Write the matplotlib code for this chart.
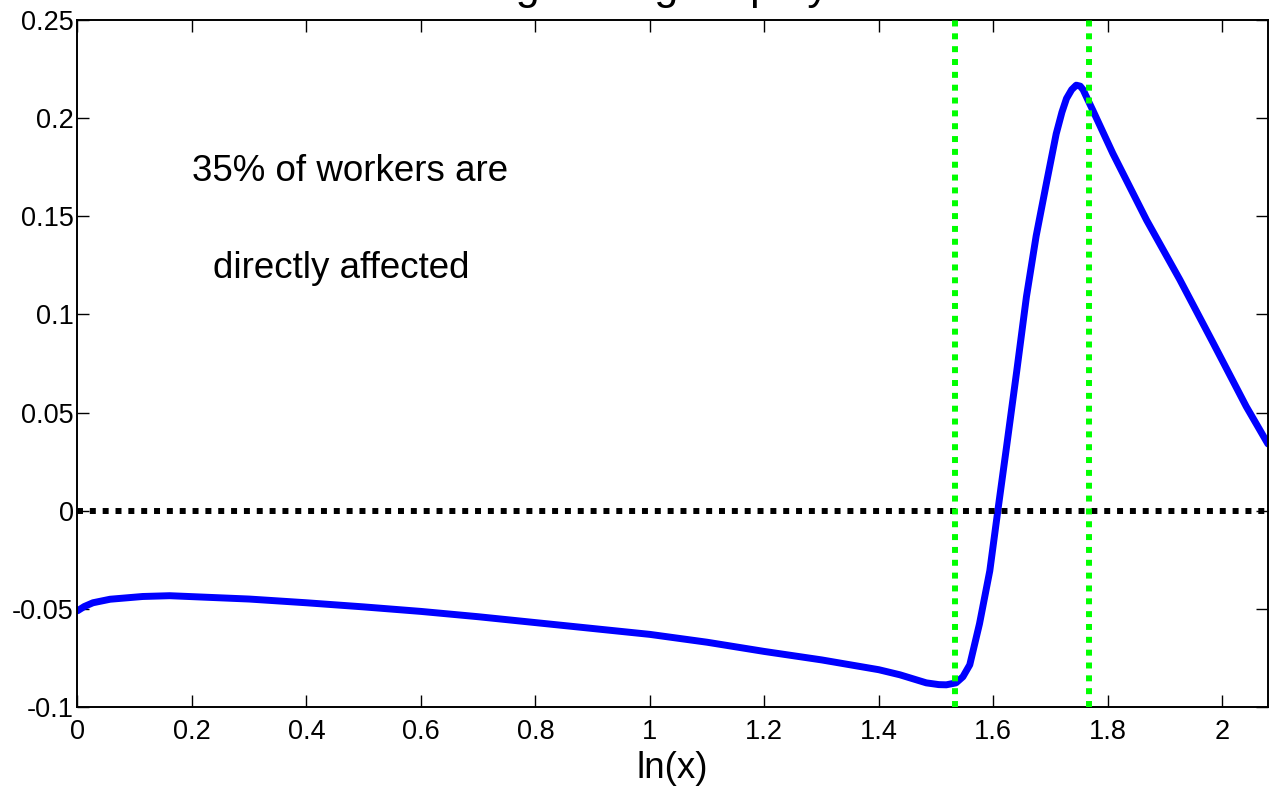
import matplotlib
matplotlib.use('Agg')
import matplotlib.pyplot as plt

plt.rcParams['font.family'] = ['Liberation Sans', 'DejaVu Sans']

# employment response by log wage ratio
ln_x = [0.0, 0.012, 0.027, 0.057, 0.114, 0.161, 0.3, 0.4, 0.5, 0.6, 0.7,
        0.8, 0.9, 1.0, 1.1, 1.2, 1.3, 1.4, 1.437, 1.483, 1.505, 1.518, 1.535,
        1.547, 1.559, 1.576, 1.594, 1.608, 1.623, 1.641, 1.658, 1.675, 1.693,
        1.71, 1.72, 1.728, 1.737, 1.745, 1.752, 1.757, 1.765, 1.774, 1.809,
        1.868, 1.926, 1.984, 2.042, 2.08]
d_log_emp = [-0.051, -0.0488, -0.0469, -0.0451, -0.0437, -0.0433, -0.045,
             -0.0469, -0.049, -0.0513, -0.054, -0.057, -0.060, -0.063,
             -0.067, -0.0717, -0.076, -0.081, -0.0836, -0.0877, -0.0886,
             -0.0887, -0.0877, -0.0846, -0.0785, -0.0576, -0.0306, 0.0, 0.032,
             0.071, 0.109, 0.140, 0.167, 0.192, 0.203, 0.210, 0.2145, 0.2168,
             0.2163, 0.2145, 0.2095, 0.204, 0.182, 0.148, 0.1177, 0.0856,
             0.0531, 0.034]

# old and new minimum wage, in ln(x)
wage_lines = [1.533, 1.767]

x_ticks = [0, 0.2, 0.4, 0.6, 0.8, 1, 1.2, 1.4, 1.6, 1.8, 2]
x_labels = ['0', '0.2', '0.4', '0.6', '0.8', '1', '1.2', '1.4', '1.6', '1.8', '2']
y_ticks = [-0.1, -0.05, 0, 0.05, 0.1, 0.15, 0.2, 0.25]
y_labels = ['-0.1', '-0.05', '0', '0.05', '0.1', '0.15', '0.2', '0.25']

fig = plt.figure(figsize=(12.7, 7.91), dpi=100)
fig.patch.set_facecolor('white')
ax = fig.add_axes([0.061, 0.1062, 0.9374, 0.8685])

ax.plot(ln_x, d_log_emp, color='#0000FF', linewidth=5, solid_capstyle='round',
        solid_joinstyle='round', zorder=2)
ax.axhline(0, color='black', linewidth=4.3, linestyle=(0, (1, 1.15)),
           dash_capstyle='butt', zorder=3)
for xv in wage_lines:
    ax.axvline(xv, color='#00FF00', linewidth=4.3, linestyle=(0, (1, 1.15)),
               dash_capstyle='butt', zorder=4)

ax.set_xlim(0, 2.08)
ax.set_ylim(-0.1, 0.25)
ax.set_xticks(x_ticks)
ax.set_xticklabels(x_labels)
ax.set_yticks(y_ticks)
ax.set_yticklabels(y_labels)
ax.tick_params(direction='in', length=8.5, width=1, top=True, right=True,
               labelsize=19.5, colors='black')
ax.tick_params(axis='x', pad=9)
ax.tick_params(axis='y', pad=2.5)
for side in ax.spines.values():
    side.set_linewidth(1.4)
    side.set_color('black')

ax.set_xlabel('ln(x)', fontsize=26.5, labelpad=4)

ax.text(0.2, 0.1681, '35% of workers are', fontsize=26.5, va='baseline', ha='left')
ax.text(0.237, 0.1187, 'directly affected', fontsize=26.5, va='baseline', ha='left')

fig.text(0.527, 1 + 1 / 791, 'Change in log employment', fontsize=31,
         ha='center', va='baseline')

fig.savefig('out.png', dpi=100, facecolor='white')
plt.close(fig)
